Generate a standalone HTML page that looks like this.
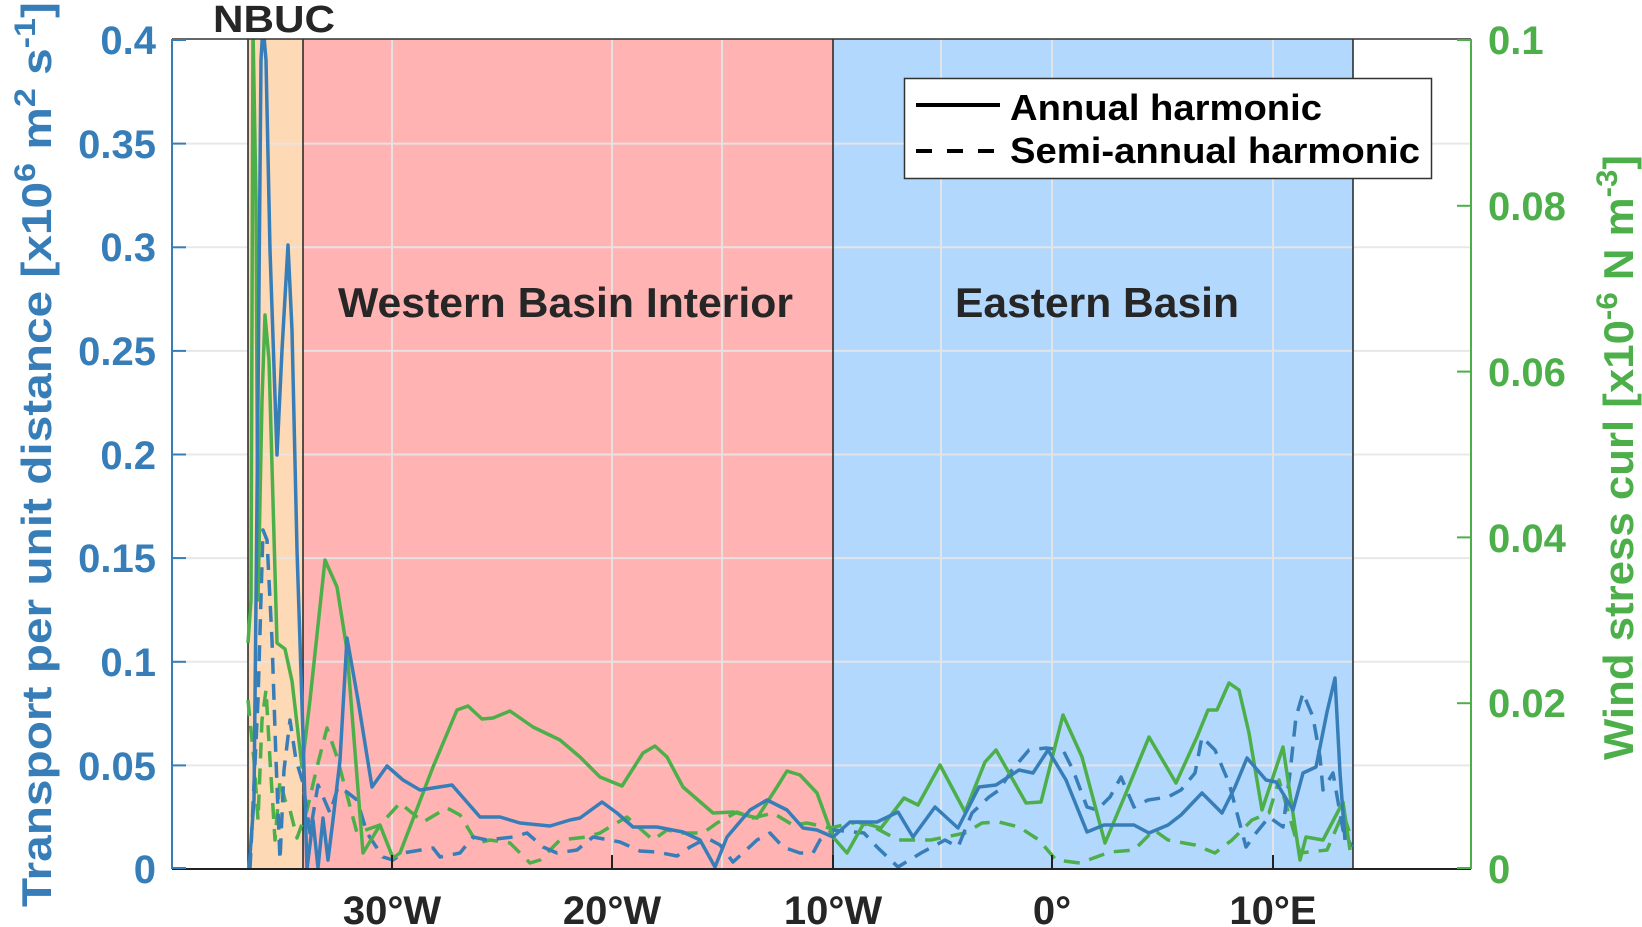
<!DOCTYPE html>
<html><head><meta charset="utf-8"><style>html,body{margin:0;padding:0;background:#fff}svg{display:block}</style></head>
<body>
<svg width="1642" height="927" viewBox="0 0 1642 927" xmlns="http://www.w3.org/2000/svg" font-family="Liberation Sans, Arial, sans-serif">
<!-- regions -->
<rect x="248" y="39" width="55" height="830" fill="#fdd9b5"/>
<rect x="303" y="39" width="530" height="830" fill="#ffb3b3"/>
<rect x="833" y="39" width="520" height="830" fill="#b3d8fd"/>
<!-- horizontal grid -->
<g stroke="#e6e6e6" stroke-width="2" opacity="0.9">
<line x1="172" x2="1471" y1="143.6" y2="143.6"/><line x1="172" x2="1471" y1="247.3" y2="247.3"/>
<line x1="172" x2="1471" y1="350.9" y2="350.9"/><line x1="172" x2="1471" y1="454.5" y2="454.5"/>
<line x1="172" x2="1471" y1="558.1" y2="558.1"/><line x1="172" x2="1471" y1="661.8" y2="661.8"/>
<line x1="172" x2="1471" y1="765.4" y2="765.4"/>
<line y1="39" y2="869" x1="392" x2="392"/><line y1="39" y2="869" x1="612" x2="612"/>
<line y1="39" y2="869" x1="722" x2="722"/><line y1="39" y2="869" x1="941" x2="941"/>
<line y1="39" y2="869" x1="1052" x2="1052"/><line y1="39" y2="869" x1="1273" x2="1273"/>
</g>
<!-- region borders -->
<g stroke="#222" stroke-width="1.5">
<line x1="248" x2="248" y1="39" y2="869"/><line x1="303" x2="303" y1="39" y2="869"/>
<line x1="833" x2="833" y1="39" y2="869"/><line x1="1353" x2="1353" y1="39" y2="869"/>
</g>
<defs><clipPath id="c"><rect x="172" y="39" width="1299" height="830"/></clipPath></defs>
<g clip-path="url(#c)" fill="none" stroke-width="3.5" stroke-linejoin="round" stroke-linecap="butt">
<!-- green dashed -->
<polyline stroke="#4daf4a" stroke-dasharray="16,10" points="248,700 254,760 258,820 262,720 266,690 270,760 275,840 280,780 285,800 290,810 297,838 307,810 317,767 327,728 337,757 357,833 380,825 400,803 423,822 447,808 460,815 477,843 490,840 510,843 530,863 540,860 560,840 587,837 600,833 613,825 627,817 653,840 667,830 683,833 703,833 717,823 737,812 753,818 773,813 793,825 807,823 830,828 857,822 874,827 898,840 931,840 965,833 982,823 999,822 1019,827 1039,840 1056,860 1080,863 1110,852 1134,850 1154,830 1168,840 1195,845 1215,853 1232,840 1252,820 1269,813 1279,780 1300,853 1327,850 1343,813 1352,840"/>
<!-- blue dashed -->
<polyline stroke="#377eb8" stroke-dasharray="16,10" points="250,869 258,700 263,530 267,540 272,640 276,760 280,860 284,770 290,720 296,760 303,783 310,833 318,785 330,813 338,787 347,792 357,800 367,833 383,857 393,860 403,853 433,848 440,857 460,853 473,837 487,840 513,837 527,833 543,847 557,853 577,850 593,837 620,842 640,851 657,852 677,856 690,847 707,838 720,845 733,862 743,853 757,840 770,833 783,847 800,853 813,853 820,840 833,830 864,833 877,847 898,867 921,853 945,840 958,847 972,813 989,797 999,790 1012,770 1029,750 1046,748 1063,750 1073,770 1087,807 1097,810 1110,797 1121,777 1134,807 1148,800 1168,797 1181,790 1195,773 1202,737 1215,750 1229,783 1246,847 1256,833 1269,817 1283,827 1290,773 1296,717 1303,693 1313,717 1320,757 1323,790 1333,773 1343,830 1352,847"/>
<!-- green solid -->
<polyline stroke="#4daf4a" points="248,643 251,600 253,30 256,200 258,600 262,400 265,315 269,360 277,643 285,649 292,681 302,767 310,700 325,560 337,587 347,650 363,853 380,825 393,858 400,853 433,767 457,710 468,706 482,719 493,718 510,711 533,727 560,740 580,757 600,777 622,786 643,753 655,746 667,757 683,787 713,813 733,812 757,818 777,787 787,771 800,775 817,793 833,837 847,853 864,823 881,828 904,798 918,805 940,765 965,812 985,762 996,750 1026,803 1041,802 1063,715 1082,757 1105,843 1126,793 1149,737 1176,783 1197,737 1208,710 1217,710 1229,683 1239,690 1249,733 1262,810 1283,747 1300,860 1306,837 1323,840 1343,802 1350,850"/>
<!-- blue solid -->
<polyline stroke="#377eb8" points="249,869 254,800 258,400 261,60 263,25 266,60 270,250 277,455 282,350 288,245 292,330 297,550 303,735 307,869 313,820 318,868 323,818 328,860 333,820 340,760 347,638 358,700 372,787 387,766 403,780 420,790 452,785 480,817 500,817 520,823 550,826 570,820 580,818 602,802 617,813 633,827 657,827 683,832 700,840 715,867 727,837 750,810 767,800 787,810 803,828 817,830 833,837 850,822 877,822 898,812 913,837 935,807 958,828 979,787 996,785 1019,770 1033,773 1048,750 1066,780 1087,832 1104,825 1134,825 1149,833 1168,825 1181,815 1202,793 1222,813 1235,787 1247,758 1266,780 1276,782 1293,810 1303,773 1316,767 1327,712 1335,678 1340,773 1345,840"/>
</g>
<!-- axes -->
<line x1="172" x2="1471" y1="39" y2="39" stroke="#333" stroke-width="1.5"/>
<line x1="172" x2="1471" y1="869" y2="869" stroke="#222" stroke-width="2"/>
<g stroke="#222" stroke-width="2"><line x1="392" x2="392" y1="869" y2="855"/><line x1="612" x2="612" y1="869" y2="855"/><line x1="833" x2="833" y1="869" y2="855"/><line x1="1052" x2="1052" y1="869" y2="855"/><line x1="1273" x2="1273" y1="869" y2="855"/></g>
<g stroke="#377eb8" stroke-width="2">
<line x1="172" x2="172" y1="39" y2="869"/>
<line x1="172" x2="186" y1="40" y2="40"/><line x1="172" x2="186" y1="143.6" y2="143.6"/><line x1="172" x2="186" y1="247.3" y2="247.3"/><line x1="172" x2="186" y1="350.9" y2="350.9"/><line x1="172" x2="186" y1="454.5" y2="454.5"/><line x1="172" x2="186" y1="558.1" y2="558.1"/><line x1="172" x2="186" y1="661.8" y2="661.8"/><line x1="172" x2="186" y1="765.4" y2="765.4"/><line x1="172" x2="186" y1="868" y2="868"/>
</g>
<g stroke="#4daf4a" stroke-width="2">
<line x1="1471" x2="1471" y1="39" y2="869"/>
<line x1="1457" x2="1471" y1="40" y2="40"/><line x1="1457" x2="1471" y1="205.8" y2="205.8"/><line x1="1457" x2="1471" y1="371.6" y2="371.6"/><line x1="1457" x2="1471" y1="537.4" y2="537.4"/><line x1="1457" x2="1471" y1="703.2" y2="703.2"/><line x1="1457" x2="1471" y1="868" y2="868"/>
</g>
<!-- tick labels -->
<g fill="#377eb8" font-weight="bold" font-size="40" text-anchor="end">
<text x="156" y="54">0.4</text><text x="156" y="158">0.35</text><text x="156" y="261">0.3</text><text x="156" y="365">0.25</text><text x="156" y="469">0.2</text><text x="156" y="572">0.15</text><text x="156" y="676">0.1</text><text x="156" y="780">0.05</text><text x="156" y="883">0</text>
</g>
<g fill="#4daf4a" font-weight="bold" font-size="40">
<text x="1488" y="54">0.1</text><text x="1488" y="220">0.08</text><text x="1488" y="386">0.06</text><text x="1488" y="552">0.04</text><text x="1488" y="717">0.02</text><text x="1488" y="883">0</text>
</g>
<g fill="#262626" font-weight="bold" font-size="40" text-anchor="middle">
<text x="392" y="924">30°W</text><text x="612" y="924">20°W</text><text x="833" y="924">10°W</text><text x="1052" y="924">0°</text><text x="1273" y="924">10°E</text>
</g>
<!-- axis titles -->
<text transform="translate(51,907) rotate(-90)" fill="#377eb8" font-weight="bold" font-size="42" textLength="905" lengthAdjust="spacingAndGlyphs">Transport per unit distance [x10<tspan font-size="30" dy="-16">6</tspan><tspan dy="16"> m</tspan><tspan font-size="30" dy="-16">2</tspan><tspan dy="16"> s</tspan><tspan font-size="30" dy="-16">-1</tspan><tspan dy="16">]</tspan></text>
<text transform="translate(1633,760) rotate(-90)" fill="#4daf4a" font-weight="bold" font-size="42" textLength="605" lengthAdjust="spacingAndGlyphs">Wind stress curl [x10<tspan font-size="30" dy="-16">-6</tspan><tspan dy="16"> N m</tspan><tspan font-size="30" dy="-16">-3</tspan><tspan dy="16">]</tspan></text>
<!-- region labels -->
<g fill="#262626" font-weight="bold">
<text x="213" y="32" font-size="38" textLength="122" lengthAdjust="spacingAndGlyphs">NBUC</text>
<text x="338" y="317" font-size="42" textLength="455" lengthAdjust="spacingAndGlyphs">Western Basin Interior</text>
<text x="955" y="317" font-size="42" textLength="284" lengthAdjust="spacingAndGlyphs">Eastern Basin</text>
</g>
<!-- legend -->
<rect x="904.5" y="78.5" width="527" height="100" fill="#fff" stroke="#333" stroke-width="1.5"/>
<line x1="916" x2="1000" y1="105" y2="105" stroke="#000" stroke-width="4"/>
<line x1="916" x2="1000" y1="151" y2="151" stroke="#000" stroke-width="4" stroke-dasharray="16,15"/>
<g fill="#000" font-weight="bold" font-size="36">
<text x="1010" y="120" textLength="312" lengthAdjust="spacingAndGlyphs">Annual harmonic</text>
<text x="1010" y="163" textLength="410" lengthAdjust="spacingAndGlyphs">Semi-annual harmonic</text>
</g>
</svg>
</body></html>
